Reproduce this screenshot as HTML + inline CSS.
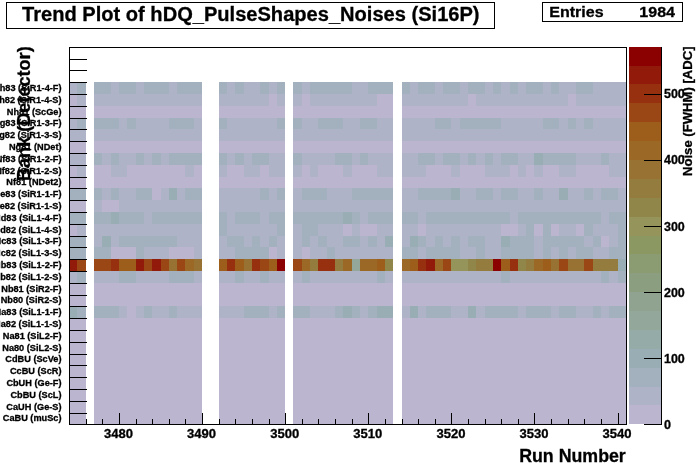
<!DOCTYPE html>
<html><head><meta charset="utf-8"><title>Trend Plot of hDQ_PulseShapes_Noises (Si16P)</title>
<style>html,body{margin:0;padding:0;background:#fff;overflow:hidden}svg{display:block}</style>
</head><body>
<svg width="696" height="472" viewBox="0 0 696 472">
<defs><mask id="tm" maskUnits="userSpaceOnUse" x="0" y="0" width="696" height="472"><rect width="696" height="472" fill="#fff"/></mask></defs>
<rect width="696" height="472" fill="#fff"/>
<g shape-rendering="crispEdges">
<rect x="69" y="82" width="8" height="12" fill="#aeb3c8"/>
<rect x="77" y="82" width="9" height="12" fill="#a2b1bd"/>
<rect x="94" y="82" width="17" height="12" fill="#a2b1bd"/>
<rect x="111" y="82" width="8" height="12" fill="#aeb3c8"/>
<rect x="119" y="82" width="17" height="12" fill="#a2b1bd"/>
<rect x="136" y="82" width="8" height="12" fill="#aeb3c8"/>
<rect x="144" y="82" width="25" height="12" fill="#a2b1bd"/>
<rect x="169" y="82" width="8" height="12" fill="#aeb3c8"/>
<rect x="177" y="82" width="25" height="12" fill="#a2b1bd"/>
<rect x="219" y="82" width="8" height="12" fill="#a2b1bd"/>
<rect x="227" y="82" width="8" height="12" fill="#aeb3c8"/>
<rect x="235" y="82" width="9" height="12" fill="#a2b1bd"/>
<rect x="244" y="82" width="16" height="12" fill="#aeb3c8"/>
<rect x="260" y="82" width="9" height="12" fill="#a2b1bd"/>
<rect x="269" y="82" width="8" height="12" fill="#aeb3c8"/>
<rect x="277" y="82" width="8" height="12" fill="#a2b1bd"/>
<rect x="293" y="82" width="9" height="12" fill="#a2b1bd"/>
<rect x="302" y="82" width="8" height="12" fill="#aeb3c8"/>
<rect x="310" y="82" width="42" height="12" fill="#a2b1bd"/>
<rect x="352" y="82" width="16" height="12" fill="#aeb3c8"/>
<rect x="368" y="82" width="25" height="12" fill="#a2b1bd"/>
<rect x="402" y="82" width="8" height="12" fill="#a2b1bd"/>
<rect x="410" y="82" width="8" height="12" fill="#aeb3c8"/>
<rect x="418" y="82" width="17" height="12" fill="#a2b1bd"/>
<rect x="435" y="82" width="8" height="12" fill="#aeb3c8"/>
<rect x="443" y="82" width="17" height="12" fill="#a2b1bd"/>
<rect x="460" y="82" width="8" height="12" fill="#aeb3c8"/>
<rect x="468" y="82" width="17" height="12" fill="#a2b1bd"/>
<rect x="485" y="82" width="8" height="12" fill="#aeb3c8"/>
<rect x="493" y="82" width="8" height="12" fill="#a2b1bd"/>
<rect x="501" y="82" width="9" height="12" fill="#aeb3c8"/>
<rect x="510" y="82" width="8" height="12" fill="#a2b1bd"/>
<rect x="518" y="82" width="8" height="12" fill="#aeb3c8"/>
<rect x="526" y="82" width="17" height="12" fill="#a2b1bd"/>
<rect x="543" y="82" width="8" height="12" fill="#aeb3c8"/>
<rect x="551" y="82" width="8" height="12" fill="#a2b1bd"/>
<rect x="559" y="82" width="17" height="12" fill="#aeb3c8"/>
<rect x="576" y="82" width="17" height="12" fill="#a2b1bd"/>
<rect x="593" y="82" width="33" height="12" fill="#aeb3c8"/>
<rect x="69" y="94" width="8" height="12" fill="#bbb5d0"/>
<rect x="77" y="94" width="9" height="12" fill="#aeb3c8"/>
<rect x="94" y="94" width="108" height="12" fill="#aeb3c8"/>
<rect x="219" y="94" width="50" height="12" fill="#aeb3c8"/>
<rect x="269" y="94" width="8" height="12" fill="#bbb5d0"/>
<rect x="277" y="94" width="8" height="12" fill="#aeb3c8"/>
<rect x="293" y="94" width="9" height="12" fill="#aeb3c8"/>
<rect x="302" y="94" width="8" height="12" fill="#bbb5d0"/>
<rect x="310" y="94" width="67" height="12" fill="#aeb3c8"/>
<rect x="377" y="94" width="16" height="12" fill="#bbb5d0"/>
<rect x="402" y="94" width="66" height="12" fill="#aeb3c8"/>
<rect x="468" y="94" width="8" height="12" fill="#bbb5d0"/>
<rect x="476" y="94" width="92" height="12" fill="#aeb3c8"/>
<rect x="568" y="94" width="8" height="12" fill="#bbb5d0"/>
<rect x="576" y="94" width="50" height="12" fill="#aeb3c8"/>
<rect x="69" y="106" width="17" height="12" fill="#bbb5d0"/>
<rect x="94" y="106" width="108" height="12" fill="#bbb5d0"/>
<rect x="219" y="106" width="66" height="12" fill="#bbb5d0"/>
<rect x="293" y="106" width="100" height="12" fill="#bbb5d0"/>
<rect x="402" y="106" width="224" height="12" fill="#bbb5d0"/>
<rect x="69" y="118" width="8" height="11" fill="#aeb3c8"/>
<rect x="77" y="118" width="9" height="11" fill="#a2b1bd"/>
<rect x="94" y="118" width="25" height="11" fill="#a2b1bd"/>
<rect x="119" y="118" width="8" height="11" fill="#aeb3c8"/>
<rect x="127" y="118" width="9" height="11" fill="#a2b1bd"/>
<rect x="136" y="118" width="33" height="11" fill="#aeb3c8"/>
<rect x="169" y="118" width="25" height="11" fill="#a2b1bd"/>
<rect x="194" y="118" width="8" height="11" fill="#aeb3c8"/>
<rect x="219" y="118" width="8" height="11" fill="#a2b1bd"/>
<rect x="227" y="118" width="50" height="11" fill="#aeb3c8"/>
<rect x="277" y="118" width="8" height="11" fill="#a2b1bd"/>
<rect x="293" y="118" width="9" height="11" fill="#a2b1bd"/>
<rect x="302" y="118" width="16" height="11" fill="#aeb3c8"/>
<rect x="318" y="118" width="25" height="11" fill="#a2b1bd"/>
<rect x="343" y="118" width="17" height="11" fill="#aeb3c8"/>
<rect x="360" y="118" width="17" height="11" fill="#a2b1bd"/>
<rect x="377" y="118" width="16" height="11" fill="#aeb3c8"/>
<rect x="402" y="118" width="33" height="11" fill="#aeb3c8"/>
<rect x="435" y="118" width="16" height="11" fill="#a2b1bd"/>
<rect x="451" y="118" width="9" height="11" fill="#aeb3c8"/>
<rect x="460" y="118" width="41" height="11" fill="#a2b1bd"/>
<rect x="501" y="118" width="42" height="11" fill="#aeb3c8"/>
<rect x="543" y="118" width="16" height="11" fill="#a2b1bd"/>
<rect x="559" y="118" width="9" height="11" fill="#aeb3c8"/>
<rect x="568" y="118" width="8" height="11" fill="#a2b1bd"/>
<rect x="576" y="118" width="8" height="11" fill="#aeb3c8"/>
<rect x="584" y="118" width="9" height="11" fill="#a2b1bd"/>
<rect x="593" y="118" width="33" height="11" fill="#aeb3c8"/>
<rect x="69" y="129" width="17" height="12" fill="#aeb3c8"/>
<rect x="94" y="129" width="108" height="12" fill="#aeb3c8"/>
<rect x="219" y="129" width="66" height="12" fill="#aeb3c8"/>
<rect x="293" y="129" width="100" height="12" fill="#aeb3c8"/>
<rect x="402" y="129" width="224" height="12" fill="#aeb3c8"/>
<rect x="69" y="141" width="17" height="12" fill="#bbb5d0"/>
<rect x="94" y="141" width="108" height="12" fill="#bbb5d0"/>
<rect x="219" y="141" width="66" height="12" fill="#bbb5d0"/>
<rect x="293" y="141" width="100" height="12" fill="#bbb5d0"/>
<rect x="402" y="141" width="224" height="12" fill="#bbb5d0"/>
<rect x="69" y="153" width="17" height="12" fill="#aeb3c8"/>
<rect x="94" y="153" width="8" height="12" fill="#a2b1bd"/>
<rect x="102" y="153" width="9" height="12" fill="#aeb3c8"/>
<rect x="111" y="153" width="8" height="12" fill="#a2b1bd"/>
<rect x="119" y="153" width="17" height="12" fill="#aeb3c8"/>
<rect x="136" y="153" width="8" height="12" fill="#a2b1bd"/>
<rect x="144" y="153" width="8" height="12" fill="#aeb3c8"/>
<rect x="152" y="153" width="9" height="12" fill="#a2b1bd"/>
<rect x="161" y="153" width="8" height="12" fill="#aeb3c8"/>
<rect x="169" y="153" width="33" height="12" fill="#a2b1bd"/>
<rect x="219" y="153" width="8" height="12" fill="#a2b1bd"/>
<rect x="227" y="153" width="8" height="12" fill="#aeb3c8"/>
<rect x="235" y="153" width="9" height="12" fill="#a2b1bd"/>
<rect x="244" y="153" width="8" height="12" fill="#aeb3c8"/>
<rect x="252" y="153" width="17" height="12" fill="#a2b1bd"/>
<rect x="269" y="153" width="16" height="12" fill="#aeb3c8"/>
<rect x="293" y="153" width="9" height="12" fill="#a2b1bd"/>
<rect x="302" y="153" width="33" height="12" fill="#aeb3c8"/>
<rect x="335" y="153" width="17" height="12" fill="#a2b1bd"/>
<rect x="352" y="153" width="8" height="12" fill="#aeb3c8"/>
<rect x="360" y="153" width="8" height="12" fill="#a2b1bd"/>
<rect x="368" y="153" width="25" height="12" fill="#aeb3c8"/>
<rect x="402" y="153" width="16" height="12" fill="#aeb3c8"/>
<rect x="418" y="153" width="17" height="12" fill="#a2b1bd"/>
<rect x="435" y="153" width="8" height="12" fill="#aeb3c8"/>
<rect x="443" y="153" width="17" height="12" fill="#a2b1bd"/>
<rect x="460" y="153" width="8" height="12" fill="#aeb3c8"/>
<rect x="468" y="153" width="8" height="12" fill="#a2b1bd"/>
<rect x="476" y="153" width="9" height="12" fill="#aeb3c8"/>
<rect x="485" y="153" width="8" height="12" fill="#a2b1bd"/>
<rect x="493" y="153" width="8" height="12" fill="#aeb3c8"/>
<rect x="501" y="153" width="17" height="12" fill="#a2b1bd"/>
<rect x="518" y="153" width="16" height="12" fill="#aeb3c8"/>
<rect x="534" y="153" width="9" height="12" fill="#98aeb4"/>
<rect x="543" y="153" width="33" height="12" fill="#a2b1bd"/>
<rect x="576" y="153" width="25" height="12" fill="#aeb3c8"/>
<rect x="601" y="153" width="8" height="12" fill="#a2b1bd"/>
<rect x="609" y="153" width="17" height="12" fill="#aeb3c8"/>
<rect x="69" y="165" width="8" height="12" fill="#bbb5d0"/>
<rect x="77" y="165" width="9" height="12" fill="#aeb3c8"/>
<rect x="94" y="165" width="17" height="12" fill="#bbb5d0"/>
<rect x="111" y="165" width="16" height="12" fill="#aeb3c8"/>
<rect x="127" y="165" width="58" height="12" fill="#bbb5d0"/>
<rect x="185" y="165" width="9" height="12" fill="#aeb3c8"/>
<rect x="194" y="165" width="8" height="12" fill="#bbb5d0"/>
<rect x="219" y="165" width="8" height="12" fill="#aeb3c8"/>
<rect x="227" y="165" width="17" height="12" fill="#bbb5d0"/>
<rect x="244" y="165" width="16" height="12" fill="#aeb3c8"/>
<rect x="260" y="165" width="9" height="12" fill="#bbb5d0"/>
<rect x="269" y="165" width="16" height="12" fill="#aeb3c8"/>
<rect x="293" y="165" width="9" height="12" fill="#aeb3c8"/>
<rect x="302" y="165" width="8" height="12" fill="#bbb5d0"/>
<rect x="310" y="165" width="8" height="12" fill="#aeb3c8"/>
<rect x="318" y="165" width="25" height="12" fill="#bbb5d0"/>
<rect x="343" y="165" width="9" height="12" fill="#aeb3c8"/>
<rect x="352" y="165" width="25" height="12" fill="#bbb5d0"/>
<rect x="377" y="165" width="16" height="12" fill="#aeb3c8"/>
<rect x="402" y="165" width="24" height="12" fill="#aeb3c8"/>
<rect x="426" y="165" width="25" height="12" fill="#bbb5d0"/>
<rect x="451" y="165" width="9" height="12" fill="#aeb3c8"/>
<rect x="460" y="165" width="25" height="12" fill="#bbb5d0"/>
<rect x="485" y="165" width="25" height="12" fill="#aeb3c8"/>
<rect x="510" y="165" width="8" height="12" fill="#bbb5d0"/>
<rect x="518" y="165" width="8" height="12" fill="#aeb3c8"/>
<rect x="526" y="165" width="8" height="12" fill="#bbb5d0"/>
<rect x="534" y="165" width="9" height="12" fill="#aeb3c8"/>
<rect x="543" y="165" width="16" height="12" fill="#bbb5d0"/>
<rect x="559" y="165" width="17" height="12" fill="#aeb3c8"/>
<rect x="576" y="165" width="33" height="12" fill="#bbb5d0"/>
<rect x="609" y="165" width="17" height="12" fill="#aeb3c8"/>
<rect x="69" y="177" width="17" height="11" fill="#bbb5d0"/>
<rect x="94" y="177" width="108" height="11" fill="#bbb5d0"/>
<rect x="219" y="177" width="66" height="11" fill="#bbb5d0"/>
<rect x="293" y="177" width="100" height="11" fill="#bbb5d0"/>
<rect x="402" y="177" width="224" height="11" fill="#bbb5d0"/>
<rect x="69" y="188" width="17" height="12" fill="#a2b1bd"/>
<rect x="94" y="188" width="8" height="12" fill="#a2b1bd"/>
<rect x="102" y="188" width="9" height="12" fill="#aeb3c8"/>
<rect x="111" y="188" width="8" height="12" fill="#a2b1bd"/>
<rect x="119" y="188" width="17" height="12" fill="#aeb3c8"/>
<rect x="136" y="188" width="16" height="12" fill="#a2b1bd"/>
<rect x="152" y="188" width="9" height="12" fill="#bbb5d0"/>
<rect x="161" y="188" width="8" height="12" fill="#aeb3c8"/>
<rect x="169" y="188" width="8" height="12" fill="#98aeb4"/>
<rect x="177" y="188" width="8" height="12" fill="#aeb3c8"/>
<rect x="185" y="188" width="17" height="12" fill="#a2b1bd"/>
<rect x="219" y="188" width="41" height="12" fill="#aeb3c8"/>
<rect x="260" y="188" width="9" height="12" fill="#a2b1bd"/>
<rect x="269" y="188" width="8" height="12" fill="#aeb3c8"/>
<rect x="277" y="188" width="8" height="12" fill="#a2b1bd"/>
<rect x="293" y="188" width="9" height="12" fill="#aeb3c8"/>
<rect x="302" y="188" width="25" height="12" fill="#a2b1bd"/>
<rect x="327" y="188" width="25" height="12" fill="#aeb3c8"/>
<rect x="352" y="188" width="41" height="12" fill="#a2b1bd"/>
<rect x="402" y="188" width="16" height="12" fill="#aeb3c8"/>
<rect x="418" y="188" width="33" height="12" fill="#a2b1bd"/>
<rect x="451" y="188" width="9" height="12" fill="#98aeb4"/>
<rect x="460" y="188" width="16" height="12" fill="#aeb3c8"/>
<rect x="476" y="188" width="17" height="12" fill="#a2b1bd"/>
<rect x="493" y="188" width="8" height="12" fill="#aeb3c8"/>
<rect x="501" y="188" width="17" height="12" fill="#a2b1bd"/>
<rect x="518" y="188" width="16" height="12" fill="#aeb3c8"/>
<rect x="534" y="188" width="9" height="12" fill="#a2b1bd"/>
<rect x="543" y="188" width="16" height="12" fill="#aeb3c8"/>
<rect x="559" y="188" width="9" height="12" fill="#98aeb4"/>
<rect x="568" y="188" width="16" height="12" fill="#aeb3c8"/>
<rect x="584" y="188" width="9" height="12" fill="#a2b1bd"/>
<rect x="593" y="188" width="8" height="12" fill="#aeb3c8"/>
<rect x="601" y="188" width="17" height="12" fill="#a2b1bd"/>
<rect x="618" y="188" width="8" height="12" fill="#aeb3c8"/>
<rect x="69" y="200" width="17" height="12" fill="#bbb5d0"/>
<rect x="94" y="200" width="8" height="12" fill="#aeb3c8"/>
<rect x="102" y="200" width="17" height="12" fill="#bbb5d0"/>
<rect x="119" y="200" width="83" height="12" fill="#aeb3c8"/>
<rect x="219" y="200" width="66" height="12" fill="#aeb3c8"/>
<rect x="293" y="200" width="100" height="12" fill="#aeb3c8"/>
<rect x="402" y="200" width="224" height="12" fill="#aeb3c8"/>
<rect x="69" y="212" width="17" height="12" fill="#a2b1bd"/>
<rect x="94" y="212" width="17" height="12" fill="#a2b1bd"/>
<rect x="111" y="212" width="8" height="12" fill="#98aeb4"/>
<rect x="119" y="212" width="25" height="12" fill="#a2b1bd"/>
<rect x="144" y="212" width="8" height="12" fill="#aeb3c8"/>
<rect x="152" y="212" width="50" height="12" fill="#a2b1bd"/>
<rect x="219" y="212" width="8" height="12" fill="#a2b1bd"/>
<rect x="227" y="212" width="8" height="12" fill="#aeb3c8"/>
<rect x="235" y="212" width="25" height="12" fill="#a2b1bd"/>
<rect x="260" y="212" width="9" height="12" fill="#aeb3c8"/>
<rect x="269" y="212" width="16" height="12" fill="#a2b1bd"/>
<rect x="293" y="212" width="50" height="12" fill="#a2b1bd"/>
<rect x="343" y="212" width="9" height="12" fill="#98aeb4"/>
<rect x="352" y="212" width="8" height="12" fill="#a2b1bd"/>
<rect x="360" y="212" width="8" height="12" fill="#aeb3c8"/>
<rect x="368" y="212" width="25" height="12" fill="#a2b1bd"/>
<rect x="402" y="212" width="16" height="12" fill="#a2b1bd"/>
<rect x="418" y="212" width="8" height="12" fill="#aeb3c8"/>
<rect x="426" y="212" width="84" height="12" fill="#a2b1bd"/>
<rect x="510" y="212" width="8" height="12" fill="#aeb3c8"/>
<rect x="518" y="212" width="83" height="12" fill="#a2b1bd"/>
<rect x="601" y="212" width="8" height="12" fill="#aeb3c8"/>
<rect x="609" y="212" width="17" height="12" fill="#a2b1bd"/>
<rect x="69" y="224" width="8" height="12" fill="#bbb5d0"/>
<rect x="77" y="224" width="9" height="12" fill="#aeb3c8"/>
<rect x="94" y="224" width="108" height="12" fill="#aeb3c8"/>
<rect x="219" y="224" width="8" height="12" fill="#a2b1bd"/>
<rect x="227" y="224" width="50" height="12" fill="#aeb3c8"/>
<rect x="277" y="224" width="8" height="12" fill="#a2b1bd"/>
<rect x="293" y="224" width="9" height="12" fill="#aeb3c8"/>
<rect x="302" y="224" width="16" height="12" fill="#a2b1bd"/>
<rect x="318" y="224" width="25" height="12" fill="#aeb3c8"/>
<rect x="343" y="224" width="9" height="12" fill="#bbb5d0"/>
<rect x="352" y="224" width="8" height="12" fill="#aeb3c8"/>
<rect x="360" y="224" width="17" height="12" fill="#bbb5d0"/>
<rect x="377" y="224" width="16" height="12" fill="#aeb3c8"/>
<rect x="402" y="224" width="16" height="12" fill="#aeb3c8"/>
<rect x="418" y="224" width="8" height="12" fill="#bbb5d0"/>
<rect x="426" y="224" width="75" height="12" fill="#aeb3c8"/>
<rect x="501" y="224" width="17" height="12" fill="#bbb5d0"/>
<rect x="518" y="224" width="8" height="12" fill="#aeb3c8"/>
<rect x="526" y="224" width="8" height="12" fill="#a2b1bd"/>
<rect x="534" y="224" width="9" height="12" fill="#bbb5d0"/>
<rect x="543" y="224" width="8" height="12" fill="#a2b1bd"/>
<rect x="551" y="224" width="8" height="12" fill="#bbb5d0"/>
<rect x="559" y="224" width="17" height="12" fill="#aeb3c8"/>
<rect x="576" y="224" width="8" height="12" fill="#bbb5d0"/>
<rect x="584" y="224" width="9" height="12" fill="#a2b1bd"/>
<rect x="593" y="224" width="25" height="12" fill="#aeb3c8"/>
<rect x="618" y="224" width="8" height="12" fill="#a2b1bd"/>
<rect x="69" y="236" width="17" height="11" fill="#a2b1bd"/>
<rect x="94" y="236" width="8" height="11" fill="#aeb3c8"/>
<rect x="102" y="236" width="9" height="11" fill="#98aeb4"/>
<rect x="111" y="236" width="8" height="11" fill="#aeb3c8"/>
<rect x="119" y="236" width="58" height="11" fill="#a2b1bd"/>
<rect x="177" y="236" width="25" height="11" fill="#aeb3c8"/>
<rect x="219" y="236" width="8" height="11" fill="#aeb3c8"/>
<rect x="227" y="236" width="17" height="11" fill="#a2b1bd"/>
<rect x="244" y="236" width="8" height="11" fill="#aeb3c8"/>
<rect x="252" y="236" width="8" height="11" fill="#a2b1bd"/>
<rect x="260" y="236" width="9" height="11" fill="#aeb3c8"/>
<rect x="269" y="236" width="8" height="11" fill="#a2b1bd"/>
<rect x="277" y="236" width="8" height="11" fill="#aeb3c8"/>
<rect x="293" y="236" width="9" height="11" fill="#aeb3c8"/>
<rect x="302" y="236" width="8" height="11" fill="#a2b1bd"/>
<rect x="310" y="236" width="8" height="11" fill="#aeb3c8"/>
<rect x="318" y="236" width="9" height="11" fill="#a2b1bd"/>
<rect x="327" y="236" width="16" height="11" fill="#aeb3c8"/>
<rect x="343" y="236" width="17" height="11" fill="#a2b1bd"/>
<rect x="360" y="236" width="8" height="11" fill="#aeb3c8"/>
<rect x="368" y="236" width="9" height="11" fill="#a2b1bd"/>
<rect x="377" y="236" width="8" height="11" fill="#aeb3c8"/>
<rect x="385" y="236" width="8" height="11" fill="#98aeb4"/>
<rect x="402" y="236" width="8" height="11" fill="#aeb3c8"/>
<rect x="410" y="236" width="8" height="11" fill="#98aeb4"/>
<rect x="418" y="236" width="8" height="11" fill="#a2b1bd"/>
<rect x="426" y="236" width="9" height="11" fill="#aeb3c8"/>
<rect x="435" y="236" width="8" height="11" fill="#a2b1bd"/>
<rect x="443" y="236" width="8" height="11" fill="#aeb3c8"/>
<rect x="451" y="236" width="9" height="11" fill="#a2b1bd"/>
<rect x="460" y="236" width="8" height="11" fill="#aeb3c8"/>
<rect x="468" y="236" width="17" height="11" fill="#a2b1bd"/>
<rect x="485" y="236" width="16" height="11" fill="#aeb3c8"/>
<rect x="501" y="236" width="9" height="11" fill="#98aeb4"/>
<rect x="510" y="236" width="24" height="11" fill="#a2b1bd"/>
<rect x="534" y="236" width="9" height="11" fill="#aeb3c8"/>
<rect x="543" y="236" width="41" height="11" fill="#a2b1bd"/>
<rect x="584" y="236" width="9" height="11" fill="#aeb3c8"/>
<rect x="593" y="236" width="8" height="11" fill="#a2b1bd"/>
<rect x="601" y="236" width="8" height="11" fill="#bbb5d0"/>
<rect x="609" y="236" width="9" height="11" fill="#aeb3c8"/>
<rect x="618" y="236" width="8" height="11" fill="#a2b1bd"/>
<rect x="69" y="247" width="17" height="12" fill="#a2b1bd"/>
<rect x="94" y="247" width="17" height="12" fill="#a2b1bd"/>
<rect x="111" y="247" width="25" height="12" fill="#bbb5d0"/>
<rect x="136" y="247" width="8" height="12" fill="#a2b1bd"/>
<rect x="144" y="247" width="25" height="12" fill="#aeb3c8"/>
<rect x="169" y="247" width="25" height="12" fill="#bbb5d0"/>
<rect x="194" y="247" width="8" height="12" fill="#aeb3c8"/>
<rect x="219" y="247" width="16" height="12" fill="#aeb3c8"/>
<rect x="235" y="247" width="34" height="12" fill="#a2b1bd"/>
<rect x="269" y="247" width="8" height="12" fill="#bbb5d0"/>
<rect x="277" y="247" width="8" height="12" fill="#aeb3c8"/>
<rect x="293" y="247" width="9" height="12" fill="#aeb3c8"/>
<rect x="302" y="247" width="8" height="12" fill="#bbb5d0"/>
<rect x="310" y="247" width="17" height="12" fill="#aeb3c8"/>
<rect x="327" y="247" width="8" height="12" fill="#a2b1bd"/>
<rect x="335" y="247" width="58" height="12" fill="#aeb3c8"/>
<rect x="402" y="247" width="16" height="12" fill="#a2b1bd"/>
<rect x="418" y="247" width="8" height="12" fill="#aeb3c8"/>
<rect x="426" y="247" width="34" height="12" fill="#a2b1bd"/>
<rect x="460" y="247" width="16" height="12" fill="#aeb3c8"/>
<rect x="476" y="247" width="9" height="12" fill="#a2b1bd"/>
<rect x="485" y="247" width="16" height="12" fill="#aeb3c8"/>
<rect x="501" y="247" width="33" height="12" fill="#a2b1bd"/>
<rect x="534" y="247" width="9" height="12" fill="#aeb3c8"/>
<rect x="543" y="247" width="8" height="12" fill="#a2b1bd"/>
<rect x="551" y="247" width="8" height="12" fill="#aeb3c8"/>
<rect x="559" y="247" width="9" height="12" fill="#a2b1bd"/>
<rect x="568" y="247" width="8" height="12" fill="#aeb3c8"/>
<rect x="576" y="247" width="17" height="12" fill="#a2b1bd"/>
<rect x="593" y="247" width="16" height="12" fill="#aeb3c8"/>
<rect x="609" y="247" width="17" height="12" fill="#a2b1bd"/>
<rect x="69" y="259" width="8" height="12" fill="#921a0a"/>
<rect x="77" y="259" width="9" height="12" fill="#9a4715"/>
<rect x="94" y="259" width="17" height="12" fill="#9a4715"/>
<rect x="111" y="259" width="8" height="12" fill="#96300f"/>
<rect x="119" y="259" width="17" height="12" fill="#9e5e1b"/>
<rect x="136" y="259" width="8" height="12" fill="#921a0a"/>
<rect x="144" y="259" width="8" height="12" fill="#9a4715"/>
<rect x="152" y="259" width="9" height="12" fill="#921a0a"/>
<rect x="161" y="259" width="8" height="12" fill="#9a4715"/>
<rect x="169" y="259" width="8" height="12" fill="#987232"/>
<rect x="177" y="259" width="8" height="12" fill="#9a4715"/>
<rect x="185" y="259" width="9" height="12" fill="#9b6826"/>
<rect x="194" y="259" width="8" height="12" fill="#987232"/>
<rect x="219" y="259" width="8" height="12" fill="#9e5e1b"/>
<rect x="227" y="259" width="8" height="12" fill="#96300f"/>
<rect x="235" y="259" width="9" height="12" fill="#9e5e1b"/>
<rect x="244" y="259" width="8" height="12" fill="#987232"/>
<rect x="252" y="259" width="8" height="12" fill="#96300f"/>
<rect x="260" y="259" width="9" height="12" fill="#9a4715"/>
<rect x="269" y="259" width="8" height="12" fill="#9e5e1b"/>
<rect x="277" y="259" width="8" height="12" fill="#8b0000"/>
<rect x="293" y="259" width="9" height="12" fill="#9a4715"/>
<rect x="302" y="259" width="8" height="12" fill="#9b6826"/>
<rect x="310" y="259" width="8" height="12" fill="#947c3e"/>
<rect x="318" y="259" width="17" height="12" fill="#96300f"/>
<rect x="335" y="259" width="8" height="12" fill="#947c3e"/>
<rect x="343" y="259" width="9" height="12" fill="#9b6826"/>
<rect x="352" y="259" width="8" height="12" fill="#93a89a"/>
<rect x="360" y="259" width="17" height="12" fill="#9b6826"/>
<rect x="377" y="259" width="8" height="12" fill="#9e5e1b"/>
<rect x="385" y="259" width="8" height="12" fill="#90864a"/>
<rect x="402" y="259" width="8" height="12" fill="#9b6826"/>
<rect x="410" y="259" width="8" height="12" fill="#9e5e1b"/>
<rect x="418" y="259" width="8" height="12" fill="#96300f"/>
<rect x="426" y="259" width="9" height="12" fill="#921a0a"/>
<rect x="435" y="259" width="8" height="12" fill="#9b6826"/>
<rect x="443" y="259" width="8" height="12" fill="#9a4715"/>
<rect x="451" y="259" width="17" height="12" fill="#95945b"/>
<rect x="468" y="259" width="8" height="12" fill="#90864a"/>
<rect x="476" y="259" width="17" height="12" fill="#947c3e"/>
<rect x="493" y="259" width="8" height="12" fill="#8b0000"/>
<rect x="501" y="259" width="9" height="12" fill="#9e5e1b"/>
<rect x="510" y="259" width="8" height="12" fill="#96300f"/>
<rect x="518" y="259" width="8" height="12" fill="#90864a"/>
<rect x="526" y="259" width="8" height="12" fill="#947c3e"/>
<rect x="534" y="259" width="9" height="12" fill="#9b6826"/>
<rect x="543" y="259" width="8" height="12" fill="#9e5e1b"/>
<rect x="551" y="259" width="8" height="12" fill="#987232"/>
<rect x="559" y="259" width="9" height="12" fill="#9a4715"/>
<rect x="568" y="259" width="16" height="12" fill="#987232"/>
<rect x="584" y="259" width="9" height="12" fill="#9a4715"/>
<rect x="593" y="259" width="25" height="12" fill="#947c3e"/>
<rect x="618" y="259" width="8" height="12" fill="#98aeb4"/>
<rect x="69" y="271" width="8" height="12" fill="#aeb3c8"/>
<rect x="77" y="271" width="9" height="12" fill="#a2b1bd"/>
<rect x="94" y="271" width="25" height="12" fill="#aeb3c8"/>
<rect x="119" y="271" width="17" height="12" fill="#a2b1bd"/>
<rect x="136" y="271" width="33" height="12" fill="#aeb3c8"/>
<rect x="169" y="271" width="25" height="12" fill="#a2b1bd"/>
<rect x="194" y="271" width="8" height="12" fill="#aeb3c8"/>
<rect x="219" y="271" width="16" height="12" fill="#aeb3c8"/>
<rect x="235" y="271" width="9" height="12" fill="#a2b1bd"/>
<rect x="244" y="271" width="16" height="12" fill="#aeb3c8"/>
<rect x="260" y="271" width="9" height="12" fill="#a2b1bd"/>
<rect x="269" y="271" width="16" height="12" fill="#aeb3c8"/>
<rect x="293" y="271" width="9" height="12" fill="#aeb3c8"/>
<rect x="302" y="271" width="8" height="12" fill="#a2b1bd"/>
<rect x="310" y="271" width="67" height="12" fill="#aeb3c8"/>
<rect x="377" y="271" width="8" height="12" fill="#a2b1bd"/>
<rect x="385" y="271" width="8" height="12" fill="#aeb3c8"/>
<rect x="402" y="271" width="99" height="12" fill="#aeb3c8"/>
<rect x="501" y="271" width="9" height="12" fill="#a2b1bd"/>
<rect x="510" y="271" width="91" height="12" fill="#aeb3c8"/>
<rect x="601" y="271" width="8" height="12" fill="#a2b1bd"/>
<rect x="609" y="271" width="9" height="12" fill="#aeb3c8"/>
<rect x="618" y="271" width="8" height="12" fill="#a2b1bd"/>
<rect x="69" y="283" width="17" height="12" fill="#bbb5d0"/>
<rect x="94" y="283" width="108" height="12" fill="#bbb5d0"/>
<rect x="219" y="283" width="66" height="12" fill="#bbb5d0"/>
<rect x="293" y="283" width="100" height="12" fill="#bbb5d0"/>
<rect x="402" y="283" width="224" height="12" fill="#bbb5d0"/>
<rect x="69" y="295" width="17" height="11" fill="#bbb5d0"/>
<rect x="94" y="295" width="108" height="11" fill="#bbb5d0"/>
<rect x="219" y="295" width="66" height="11" fill="#bbb5d0"/>
<rect x="293" y="295" width="100" height="11" fill="#bbb5d0"/>
<rect x="402" y="295" width="224" height="11" fill="#bbb5d0"/>
<rect x="69" y="306" width="8" height="12" fill="#98aeb4"/>
<rect x="77" y="306" width="9" height="12" fill="#a2b1bd"/>
<rect x="94" y="306" width="25" height="12" fill="#a2b1bd"/>
<rect x="119" y="306" width="8" height="12" fill="#aeb3c8"/>
<rect x="127" y="306" width="9" height="12" fill="#bbb5d0"/>
<rect x="136" y="306" width="8" height="12" fill="#aeb3c8"/>
<rect x="144" y="306" width="8" height="12" fill="#a2b1bd"/>
<rect x="152" y="306" width="17" height="12" fill="#aeb3c8"/>
<rect x="169" y="306" width="8" height="12" fill="#a2b1bd"/>
<rect x="177" y="306" width="25" height="12" fill="#aeb3c8"/>
<rect x="219" y="306" width="25" height="12" fill="#aeb3c8"/>
<rect x="244" y="306" width="25" height="12" fill="#a2b1bd"/>
<rect x="269" y="306" width="8" height="12" fill="#aeb3c8"/>
<rect x="277" y="306" width="8" height="12" fill="#a2b1bd"/>
<rect x="293" y="306" width="17" height="12" fill="#a2b1bd"/>
<rect x="310" y="306" width="25" height="12" fill="#aeb3c8"/>
<rect x="335" y="306" width="8" height="12" fill="#a2b1bd"/>
<rect x="343" y="306" width="9" height="12" fill="#98aeb4"/>
<rect x="352" y="306" width="8" height="12" fill="#a2b1bd"/>
<rect x="360" y="306" width="8" height="12" fill="#aeb3c8"/>
<rect x="368" y="306" width="9" height="12" fill="#a2b1bd"/>
<rect x="377" y="306" width="16" height="12" fill="#98aeb4"/>
<rect x="402" y="306" width="8" height="12" fill="#aeb3c8"/>
<rect x="410" y="306" width="8" height="12" fill="#98aeb4"/>
<rect x="418" y="306" width="8" height="12" fill="#aeb3c8"/>
<rect x="426" y="306" width="25" height="12" fill="#a2b1bd"/>
<rect x="451" y="306" width="17" height="12" fill="#aeb3c8"/>
<rect x="468" y="306" width="8" height="12" fill="#98aeb4"/>
<rect x="476" y="306" width="9" height="12" fill="#aeb3c8"/>
<rect x="485" y="306" width="33" height="12" fill="#a2b1bd"/>
<rect x="518" y="306" width="8" height="12" fill="#aeb3c8"/>
<rect x="526" y="306" width="25" height="12" fill="#a2b1bd"/>
<rect x="551" y="306" width="8" height="12" fill="#aeb3c8"/>
<rect x="559" y="306" width="17" height="12" fill="#a2b1bd"/>
<rect x="576" y="306" width="17" height="12" fill="#aeb3c8"/>
<rect x="593" y="306" width="8" height="12" fill="#a2b1bd"/>
<rect x="601" y="306" width="8" height="12" fill="#aeb3c8"/>
<rect x="609" y="306" width="17" height="12" fill="#a2b1bd"/>
<rect x="69" y="318" width="17" height="12" fill="#bbb5d0"/>
<rect x="94" y="318" width="108" height="12" fill="#bbb5d0"/>
<rect x="219" y="318" width="66" height="12" fill="#bbb5d0"/>
<rect x="293" y="318" width="100" height="12" fill="#bbb5d0"/>
<rect x="402" y="318" width="224" height="12" fill="#bbb5d0"/>
<rect x="69" y="330" width="17" height="12" fill="#bbb5d0"/>
<rect x="94" y="330" width="108" height="12" fill="#bbb5d0"/>
<rect x="219" y="330" width="66" height="12" fill="#bbb5d0"/>
<rect x="293" y="330" width="100" height="12" fill="#bbb5d0"/>
<rect x="402" y="330" width="224" height="12" fill="#bbb5d0"/>
<rect x="69" y="342" width="17" height="12" fill="#bbb5d0"/>
<rect x="94" y="342" width="108" height="12" fill="#bbb5d0"/>
<rect x="219" y="342" width="66" height="12" fill="#bbb5d0"/>
<rect x="293" y="342" width="100" height="12" fill="#bbb5d0"/>
<rect x="402" y="342" width="224" height="12" fill="#bbb5d0"/>
<rect x="69" y="354" width="17" height="11" fill="#bbb5d0"/>
<rect x="94" y="354" width="108" height="11" fill="#bbb5d0"/>
<rect x="219" y="354" width="66" height="11" fill="#bbb5d0"/>
<rect x="293" y="354" width="100" height="11" fill="#bbb5d0"/>
<rect x="402" y="354" width="224" height="11" fill="#bbb5d0"/>
<rect x="69" y="365" width="17" height="12" fill="#bbb5d0"/>
<rect x="94" y="365" width="108" height="12" fill="#bbb5d0"/>
<rect x="219" y="365" width="66" height="12" fill="#bbb5d0"/>
<rect x="293" y="365" width="100" height="12" fill="#bbb5d0"/>
<rect x="402" y="365" width="224" height="12" fill="#bbb5d0"/>
<rect x="69" y="377" width="17" height="12" fill="#bbb5d0"/>
<rect x="94" y="377" width="108" height="12" fill="#bbb5d0"/>
<rect x="219" y="377" width="66" height="12" fill="#bbb5d0"/>
<rect x="293" y="377" width="100" height="12" fill="#bbb5d0"/>
<rect x="402" y="377" width="224" height="12" fill="#bbb5d0"/>
<rect x="69" y="389" width="17" height="12" fill="#bbb5d0"/>
<rect x="94" y="389" width="108" height="12" fill="#bbb5d0"/>
<rect x="219" y="389" width="66" height="12" fill="#bbb5d0"/>
<rect x="293" y="389" width="100" height="12" fill="#bbb5d0"/>
<rect x="402" y="389" width="224" height="12" fill="#bbb5d0"/>
<rect x="69" y="401" width="17" height="12" fill="#bbb5d0"/>
<rect x="94" y="401" width="108" height="12" fill="#bbb5d0"/>
<rect x="219" y="401" width="66" height="12" fill="#bbb5d0"/>
<rect x="293" y="401" width="100" height="12" fill="#bbb5d0"/>
<rect x="402" y="401" width="224" height="12" fill="#bbb5d0"/>
<rect x="69" y="413" width="17" height="11" fill="#bbb5d0"/>
<rect x="94" y="413" width="108" height="11" fill="#bbb5d0"/>
<rect x="219" y="413" width="66" height="11" fill="#bbb5d0"/>
<rect x="293" y="413" width="100" height="11" fill="#bbb5d0"/>
<rect x="402" y="413" width="224" height="11" fill="#bbb5d0"/>
</g>
<g shape-rendering="crispEdges">
<rect x="629" y="405" width="33" height="19" fill="#bbb5d0"/>
<rect x="629" y="387" width="33" height="18" fill="#aeb3c8"/>
<rect x="629" y="368" width="33" height="19" fill="#a2b1bd"/>
<rect x="629" y="349" width="33" height="19" fill="#98aeb4"/>
<rect x="629" y="330" width="33" height="19" fill="#95aba8"/>
<rect x="629" y="311" width="33" height="19" fill="#93a89a"/>
<rect x="629" y="292" width="33" height="19" fill="#8fa390"/>
<rect x="629" y="273" width="33" height="19" fill="#8b9e80"/>
<rect x="629" y="254" width="33" height="19" fill="#8b9b72"/>
<rect x="629" y="236" width="33" height="18" fill="#8c9862"/>
<rect x="629" y="217" width="33" height="19" fill="#95945b"/>
<rect x="629" y="198" width="33" height="19" fill="#90864a"/>
<rect x="629" y="179" width="33" height="19" fill="#947c3e"/>
<rect x="629" y="160" width="33" height="19" fill="#987232"/>
<rect x="629" y="141" width="33" height="19" fill="#9b6826"/>
<rect x="629" y="122" width="33" height="19" fill="#9e5e1b"/>
<rect x="629" y="103" width="33" height="19" fill="#9a4715"/>
<rect x="629" y="84" width="33" height="19" fill="#96300f"/>
<rect x="629" y="66" width="33" height="18" fill="#921a0a"/>
<rect x="629" y="47" width="33" height="19" fill="#8b0000"/>
</g>
<g stroke="#000" stroke-width="1" shape-rendering="crispEdges" fill="none">
<rect x="69.5" y="47.5" width="557.0" height="377.0"/>
<line x1="69.5" y1="413.5" x2="87" y2="413.5"/>
<line x1="69.5" y1="401.5" x2="87" y2="401.5"/>
<line x1="69.5" y1="389.5" x2="87" y2="389.5"/>
<line x1="69.5" y1="377.5" x2="87" y2="377.5"/>
<line x1="69.5" y1="365.5" x2="87" y2="365.5"/>
<line x1="69.5" y1="354.5" x2="87" y2="354.5"/>
<line x1="69.5" y1="342.5" x2="87" y2="342.5"/>
<line x1="69.5" y1="330.5" x2="87" y2="330.5"/>
<line x1="69.5" y1="318.5" x2="87" y2="318.5"/>
<line x1="69.5" y1="306.5" x2="87" y2="306.5"/>
<line x1="69.5" y1="295.5" x2="87" y2="295.5"/>
<line x1="69.5" y1="283.5" x2="87" y2="283.5"/>
<line x1="69.5" y1="271.5" x2="87" y2="271.5"/>
<line x1="69.5" y1="259.5" x2="87" y2="259.5"/>
<line x1="69.5" y1="247.5" x2="87" y2="247.5"/>
<line x1="69.5" y1="236.5" x2="87" y2="236.5"/>
<line x1="69.5" y1="224.5" x2="87" y2="224.5"/>
<line x1="69.5" y1="212.5" x2="87" y2="212.5"/>
<line x1="69.5" y1="200.5" x2="87" y2="200.5"/>
<line x1="69.5" y1="188.5" x2="87" y2="188.5"/>
<line x1="69.5" y1="177.5" x2="87" y2="177.5"/>
<line x1="69.5" y1="165.5" x2="87" y2="165.5"/>
<line x1="69.5" y1="153.5" x2="87" y2="153.5"/>
<line x1="69.5" y1="141.5" x2="87" y2="141.5"/>
<line x1="69.5" y1="129.5" x2="87" y2="129.5"/>
<line x1="69.5" y1="118.5" x2="87" y2="118.5"/>
<line x1="69.5" y1="106.5" x2="87" y2="106.5"/>
<line x1="69.5" y1="94.5" x2="87" y2="94.5"/>
<line x1="69.5" y1="82.5" x2="87" y2="82.5"/>
<line x1="69.5" y1="70.5" x2="87" y2="70.5"/>
<line x1="69.5" y1="59.5" x2="87" y2="59.5"/>
<line x1="86.5" y1="424.5" x2="86.5" y2="418.5"/>
<line x1="102.5" y1="424.5" x2="102.5" y2="418.5"/>
<line x1="119.5" y1="424.5" x2="119.5" y2="412.5"/>
<line x1="136.5" y1="424.5" x2="136.5" y2="418.5"/>
<line x1="152.5" y1="424.5" x2="152.5" y2="418.5"/>
<line x1="169.5" y1="424.5" x2="169.5" y2="418.5"/>
<line x1="185.5" y1="424.5" x2="185.5" y2="418.5"/>
<line x1="202.5" y1="424.5" x2="202.5" y2="412.5"/>
<line x1="219.5" y1="424.5" x2="219.5" y2="418.5"/>
<line x1="235.5" y1="424.5" x2="235.5" y2="418.5"/>
<line x1="252.5" y1="424.5" x2="252.5" y2="418.5"/>
<line x1="269.5" y1="424.5" x2="269.5" y2="418.5"/>
<line x1="285.5" y1="424.5" x2="285.5" y2="412.5"/>
<line x1="302.5" y1="424.5" x2="302.5" y2="418.5"/>
<line x1="318.5" y1="424.5" x2="318.5" y2="418.5"/>
<line x1="335.5" y1="424.5" x2="335.5" y2="418.5"/>
<line x1="352.5" y1="424.5" x2="352.5" y2="418.5"/>
<line x1="368.5" y1="424.5" x2="368.5" y2="412.5"/>
<line x1="385.5" y1="424.5" x2="385.5" y2="418.5"/>
<line x1="402.5" y1="424.5" x2="402.5" y2="418.5"/>
<line x1="418.5" y1="424.5" x2="418.5" y2="418.5"/>
<line x1="435.5" y1="424.5" x2="435.5" y2="418.5"/>
<line x1="451.5" y1="424.5" x2="451.5" y2="412.5"/>
<line x1="468.5" y1="424.5" x2="468.5" y2="418.5"/>
<line x1="485.5" y1="424.5" x2="485.5" y2="418.5"/>
<line x1="501.5" y1="424.5" x2="501.5" y2="418.5"/>
<line x1="518.5" y1="424.5" x2="518.5" y2="418.5"/>
<line x1="534.5" y1="424.5" x2="534.5" y2="412.5"/>
<line x1="551.5" y1="424.5" x2="551.5" y2="418.5"/>
<line x1="568.5" y1="424.5" x2="568.5" y2="418.5"/>
<line x1="584.5" y1="424.5" x2="584.5" y2="418.5"/>
<line x1="601.5" y1="424.5" x2="601.5" y2="418.5"/>
<line x1="618.5" y1="424.5" x2="618.5" y2="412.5"/>
<line x1="661.5" y1="47.2" x2="661.5" y2="425.0"/>
<line x1="644" y1="424.5" x2="662" y2="424.5"/>
<line x1="644" y1="358.5" x2="662" y2="358.5"/>
<line x1="644" y1="292.5" x2="662" y2="292.5"/>
<line x1="644" y1="226.5" x2="662" y2="226.5"/>
<line x1="644" y1="160.5" x2="662" y2="160.5"/>
<line x1="644" y1="94.5" x2="662" y2="94.5"/>
<rect x="6.5" y="2.5" width="488" height="25.5" fill="#fff"/>
<rect x="542.5" y="2.5" width="140" height="19" fill="#fff"/>
</g>
<g font-family="'Liberation Sans', Arial, Helvetica, sans-serif" font-weight="bold" fill="#000" stroke="#000" stroke-width="0.3" mask="url(#tm)">
<text x="22.1" y="20.5" font-size="20.08">Trend Plot of hDQ_PulseShapes_Noises (Si16P)</text>
<text x="549.2" y="17.1" font-size="15.5" textLength="54.4" lengthAdjust="spacingAndGlyphs">Entries</text>
<text x="639.3" y="17.1" font-size="15.4" textLength="35.7" lengthAdjust="spacingAndGlyphs">1984</text>
<text x="61.5" y="91.0" font-size="9.2" text-anchor="end">Nh83 (SiR1-4-F)</text>
<text x="61.5" y="102.8" font-size="9.2" text-anchor="end">Nh82 (SiR1-4-S)</text>
<text x="61.5" y="114.6" font-size="9.2" text-anchor="end">Nh81 (ScGe)</text>
<text x="61.5" y="126.4" font-size="9.2" text-anchor="end">Ng83 (SiR1-3-F)</text>
<text x="61.5" y="138.2" font-size="9.2" text-anchor="end">Ng82 (SiR1-3-S)</text>
<text x="61.5" y="150.0" font-size="9.2" text-anchor="end">Ng81 (NDet)</text>
<text x="61.5" y="161.8" font-size="9.2" text-anchor="end">Nf83 (SiR1-2-F)</text>
<text x="61.5" y="173.6" font-size="9.2" text-anchor="end">Nf82 (SiR1-2-S)</text>
<text x="61.5" y="185.4" font-size="9.2" text-anchor="end">Nf81 (NDet2)</text>
<text x="61.5" y="197.2" font-size="9.2" text-anchor="end">Ne83 (SiR1-1-F)</text>
<text x="61.5" y="209.0" font-size="9.2" text-anchor="end">Ne82 (SiR1-1-S)</text>
<text x="61.5" y="220.8" font-size="9.2" text-anchor="end">Nd83 (SiL1-4-F)</text>
<text x="61.5" y="232.6" font-size="9.2" text-anchor="end">Nd82 (SiL1-4-S)</text>
<text x="61.5" y="244.4" font-size="9.2" text-anchor="end">Nc83 (SiL1-3-F)</text>
<text x="61.5" y="256.2" font-size="9.2" text-anchor="end">Nc82 (SiL1-3-S)</text>
<text x="61.5" y="268.0" font-size="9.2" text-anchor="end">Nb83 (SiL1-2-F)</text>
<text x="61.5" y="279.8" font-size="9.2" text-anchor="end">Nb82 (SiL1-2-S)</text>
<text x="61.5" y="291.6" font-size="9.2" text-anchor="end">Nb81 (SiR2-F)</text>
<text x="61.5" y="303.4" font-size="9.2" text-anchor="end">Nb80 (SiR2-S)</text>
<text x="61.5" y="315.2" font-size="9.2" text-anchor="end">Na83 (SiL1-1-F)</text>
<text x="61.5" y="327.0" font-size="9.2" text-anchor="end">Na82 (SiL1-1-S)</text>
<text x="61.5" y="338.8" font-size="9.2" text-anchor="end">Na81 (SiL2-F)</text>
<text x="61.5" y="350.6" font-size="9.2" text-anchor="end">Na80 (SiL2-S)</text>
<text x="61.5" y="362.4" font-size="9.2" text-anchor="end">CdBU (ScVe)</text>
<text x="61.5" y="374.2" font-size="9.2" text-anchor="end">CcBU (ScR)</text>
<text x="61.5" y="386.0" font-size="9.2" text-anchor="end">CbUH (Ge-F)</text>
<text x="61.5" y="397.8" font-size="9.2" text-anchor="end">CbBU (ScL)</text>
<text x="61.5" y="409.6" font-size="9.2" text-anchor="end">CaUH (Ge-S)</text>
<text x="61.5" y="421.4" font-size="9.2" text-anchor="end">CaBU (muSc)</text>
<text x="104.0" y="438.2" font-size="12" textLength="29" lengthAdjust="spacingAndGlyphs">3480</text>
<text x="187.1" y="438.2" font-size="12" textLength="29" lengthAdjust="spacingAndGlyphs">3490</text>
<text x="270.2" y="438.2" font-size="12" textLength="29" lengthAdjust="spacingAndGlyphs">3500</text>
<text x="353.3" y="438.2" font-size="12" textLength="29" lengthAdjust="spacingAndGlyphs">3510</text>
<text x="436.4" y="438.2" font-size="12" textLength="29" lengthAdjust="spacingAndGlyphs">3520</text>
<text x="519.5" y="438.2" font-size="12" textLength="29" lengthAdjust="spacingAndGlyphs">3530</text>
<text x="602.6" y="438.2" font-size="12" textLength="29" lengthAdjust="spacingAndGlyphs">3540</text>
<text x="664" y="428.7" font-size="12" textLength="7" lengthAdjust="spacingAndGlyphs">0</text>
<text x="664" y="362.6" font-size="12" textLength="20.8" lengthAdjust="spacingAndGlyphs">100</text>
<text x="664" y="296.5" font-size="12" textLength="20.8" lengthAdjust="spacingAndGlyphs">200</text>
<text x="664" y="230.5" font-size="12" textLength="20.8" lengthAdjust="spacingAndGlyphs">300</text>
<text x="664" y="164.4" font-size="12" textLength="20.8" lengthAdjust="spacingAndGlyphs">400</text>
<text x="664" y="98.3" font-size="12" textLength="20.8" lengthAdjust="spacingAndGlyphs">500</text>
<text x="519.2" y="461.8" font-size="17.7" textLength="106.6" lengthAdjust="spacingAndGlyphs">Run Number</text>
<text transform="translate(30,46.3) rotate(-90)" font-size="18.1" text-anchor="end">Bank (Detector)</text>
<text transform="translate(692.2,46.5) rotate(-90)" font-size="13.1" text-anchor="end">Noise (FWHM) [ADC]</text>
</g>
</svg>
</body></html>
